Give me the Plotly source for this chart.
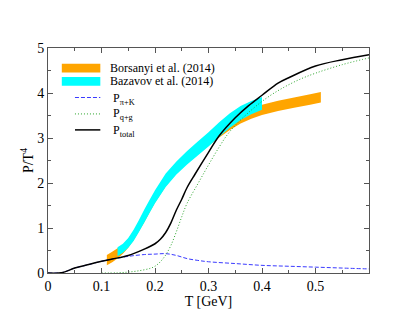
import plotly.graph_objects as go

# lattice bands (T in GeV, P/T^4 lower / upper edge)
T_bors = [0.11, 0.12, 0.13, 0.14, 0.15, 0.16, 0.17, 0.18, 0.19, 0.20, 0.22, 0.24,
          0.26, 0.28, 0.30, 0.32, 0.34, 0.36, 0.38, 0.40, 0.43, 0.46, 0.49, 0.51]
bors_lo = [0.17, 0.24, 0.32, 0.43, 0.56, 0.73, 0.93, 1.13, 1.35, 1.56, 1.93, 2.21,
           2.44, 2.64, 2.83, 3.01, 3.18, 3.32, 3.43, 3.51, 3.60, 3.67, 3.74, 3.79]
bors_hi = [0.40, 0.47, 0.55, 0.63, 0.76, 0.93, 1.14, 1.36, 1.58, 1.80, 2.17, 2.44,
           2.66, 2.86, 3.05, 3.23, 3.40, 3.54, 3.65, 3.74, 3.83, 3.90, 3.97, 4.02]

T_baz = [0.13, 0.14, 0.15, 0.16, 0.17, 0.18, 0.19, 0.20, 0.22, 0.24, 0.26, 0.28,
         0.30, 0.32, 0.34, 0.36, 0.38, 0.40]
baz_lo = [0.37, 0.45, 0.56, 0.71, 0.91, 1.12, 1.34, 1.55, 1.91, 2.19, 2.41, 2.61,
          2.81, 3.03, 3.23, 3.40, 3.53, 3.63]
baz_hi = [0.57, 0.65, 0.78, 0.96, 1.18, 1.41, 1.63, 1.84, 2.21, 2.48, 2.71, 2.92,
          3.13, 3.35, 3.55, 3.71, 3.82, 3.91]

# model curves
T_pk = [0.0, 0.02, 0.03, 0.05, 0.07, 0.10, 0.12, 0.15, 0.18, 0.20, 0.22, 0.24,
        0.26, 0.28, 0.30, 0.35, 0.40, 0.45, 0.50, 0.55, 0.60]
P_pk = [0.0, 0.0, 0.02, 0.11, 0.17, 0.26, 0.31, 0.37, 0.41, 0.42, 0.43, 0.39,
        0.32, 0.28, 0.25, 0.21, 0.17, 0.15, 0.13, 0.11, 0.09]

T_qg = [0.10, 0.13, 0.15, 0.17, 0.19, 0.20, 0.21, 0.22, 0.23, 0.24, 0.25, 0.26,
        0.28, 0.30, 0.32, 0.335, 0.35, 0.38, 0.41, 0.44, 0.47, 0.50, 0.55, 0.60]
P_qg = [0.0, 0.005, 0.02, 0.05, 0.10, 0.15, 0.25, 0.40, 0.62, 0.92, 1.25, 1.55,
        1.98, 2.40, 2.80, 3.07, 3.28, 3.62, 3.90, 4.12, 4.30, 4.44, 4.63, 4.78]

T_tot = [0.0, 0.02, 0.03, 0.05, 0.07, 0.10, 0.12, 0.15, 0.18, 0.20, 0.21, 0.22,
         0.23, 0.24, 0.25, 0.26, 0.275, 0.30, 0.32, 0.35, 0.375, 0.40, 0.43, 0.45,
         0.50, 0.55, 0.60]
P_tot = [0.0, 0.0, 0.02, 0.11, 0.17, 0.26, 0.31, 0.39, 0.53, 0.65, 0.75, 0.90,
         1.12, 1.40, 1.64, 1.90, 2.20, 2.68, 3.05, 3.45, 3.72, 3.95, 4.22, 4.34,
         4.60, 4.74, 4.85]

FONT = "Liberation Serif"
AX = "#555555"

fig = go.Figure()

# bands: orange first, cyan on top
fig.add_trace(go.Scatter(x=T_bors + T_bors[::-1], y=bors_lo + bors_hi[::-1],
                         fill="toself", fillcolor="#ffa500", mode="none",
                         showlegend=False, hoverinfo="skip"))
fig.add_trace(go.Scatter(x=T_baz + T_baz[::-1], y=baz_lo + baz_hi[::-1],
                         fill="toself", fillcolor="#00ffff", mode="none",
                         showlegend=False, hoverinfo="skip"))

fig.add_trace(go.Scatter(x=T_pk, y=P_pk, mode="lines", line_shape="spline",
                         line=dict(color="#3a3aff", width=1, dash="4px,2px"), showlegend=False))
fig.add_trace(go.Scatter(x=T_qg, y=P_qg, mode="lines", line_shape="spline",
                         line=dict(color="#2aa52a", width=1, dash="1px,2px"), showlegend=False))
fig.add_trace(go.Scatter(x=T_tot, y=P_tot, mode="lines", line_shape="spline",
                         line=dict(color="black", width=1.5), showlegend=False))

# hand-made legend (grace style swatches)
shapes = [
    dict(type="rect", xref="paper", yref="paper", x0=0.043, x1=0.163, y0=0.891, y1=0.930,
         fillcolor="#ffa500", line_width=0),
    dict(type="rect", xref="paper", yref="paper", x0=0.043, x1=0.163, y0=0.832, y1=0.871,
         fillcolor="#00ffff", line_width=0),
    dict(type="line", xref="paper", yref="paper", x0=0.084, x1=0.163, y0=0.780, y1=0.780,
         line=dict(color="#3a3aff", width=1, dash="4px,2px")),
    dict(type="line", xref="paper", yref="paper", x0=0.084, x1=0.163, y0=0.707, y1=0.707,
         line=dict(color="#2aa52a", width=1, dash="1px,2px")),
    dict(type="line", xref="paper", yref="paper", x0=0.084, x1=0.163, y0=0.636, y1=0.636,
         line=dict(color="black", width=1.5)),
]
labels = [
    ("Borsanyi et al. (2014)", 0.188, 0.910),
    ("Bazavov et al. (2014)", 0.188, 0.852),
    ("P<sub>π+K</sub>", 0.196, 0.775),
    ("P<sub>q+g</sub>", 0.196, 0.705),
    ("P<sub>total</sub>", 0.196, 0.632),
]
annotations = [dict(text=t, x=x, y=y, xref="paper", yref="paper", xanchor="left",
                    yanchor="middle", showarrow=False, font=dict(family=FONT, size=12, color="black"))
               for t, x, y in labels]

axis_common = dict(showgrid=False, zeroline=False, showline=True, linecolor=AX,
                   linewidth=1, mirror="allticks", ticks="inside", ticklen=5,
                   tickcolor=AX, tickfont=dict(family=FONT, size=14, color="black"))

# page body has an 8px margin, so the margins are shifted to keep the plot box in place
fig.update_layout(
    width=415, height=321,
    margin=dict(l=40, r=54, t=40, b=56),
    plot_bgcolor="white", paper_bgcolor="white",
    font=dict(family=FONT, color="black"),
    shapes=shapes, annotations=annotations,
    xaxis=dict(range=[0, 0.6], tickvals=[0, 0.1, 0.2, 0.3, 0.4, 0.5],
               ticktext=["0", "0.1", "0.2", "0.3", "0.4", "0.5"],
               minor=dict(tickvals=[0.05, 0.15, 0.25, 0.35, 0.45, 0.55], ticklen=3,
                          ticks="inside", tickcolor=AX),
               title=dict(text="T [GeV]", font=dict(family=FONT, size=14), standoff=0),
               **axis_common),
    yaxis=dict(range=[0, 5], dtick=1,
               minor=dict(dtick=0.5, ticklen=3, ticks="inside", tickcolor=AX),
               title=dict(text="P/T<sup>4</sup>", font=dict(family=FONT, size=14), standoff=0),
               **axis_common),
)

fig.write_html("out.html")
